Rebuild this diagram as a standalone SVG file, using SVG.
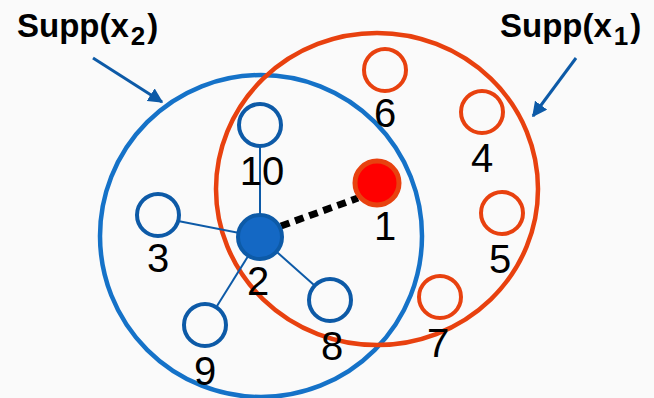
<svg xmlns="http://www.w3.org/2000/svg" width="654" height="398" viewBox="0 0 654 398">
<defs>
<style>
.lbl{font-family:"Liberation Sans",Arial,sans-serif;font-size:40px;fill:#000;text-anchor:middle}
.ttl{font-family:"Liberation Sans",Arial,sans-serif;font-size:33px;font-weight:bold;fill:#000}
.sub{font-size:26px}
.bn{fill:#FAFAFA;stroke:#0D5AA7;stroke-width:4}
.rn{fill:none;stroke:#E8410F;stroke-width:4}
.edge{stroke:#0D5AA7;stroke-width:2}
.arr{stroke:#0D5AA7;stroke-width:3;fill:none}
</style>
<marker id="ah" viewBox="0 0 10 10" refX="9" refY="5" markerWidth="5" markerHeight="5" orient="auto" markerUnits="strokeWidth">
<path d="M0,0 L10,5 L0,10 z" fill="#0D5AA7"/>
</marker>
</defs>
<rect width="654" height="398" fill="#FAFAFA"/>
<g id="supp-x2">
<circle cx="261" cy="236" r="161" fill="none" stroke="#1572C8" stroke-width="4.5"/>
</g>
<g id="supp-x1">
<ellipse cx="377" cy="189" rx="161" ry="156" fill="none" stroke="#E8410F" stroke-width="4.5"/>
</g>
<g id="connectors">
<line class="edge" x1="260" y1="237" x2="260" y2="146"/>
<line class="edge" x1="260" y1="237" x2="178" y2="221"/>
<line class="edge" x1="260" y1="237" x2="217" y2="306"/>
<line class="edge" x1="260" y1="237" x2="314" y2="285"/>
<line x1="281" y1="226" x2="358" y2="198" stroke="#000" stroke-width="7" stroke-dasharray="9,6"/>
<line class="arr" x1="93" y1="58" x2="162" y2="102" marker-end="url(#ah)"/>
<line class="arr" x1="576" y1="58" x2="533" y2="116" marker-end="url(#ah)"/>
</g>
<g id="title-x2"><text class="ttl" x="17" y="37">Supp(x<tspan class="sub" dx="2" dy="8">2</tspan><tspan dx="2" dy="-8">)</tspan></text></g>
<g id="title-x1"><text class="ttl" x="500" y="37">Supp(x<tspan class="sub" dx="2" dy="8">1</tspan><tspan dx="2" dy="-8">)</tspan></text></g>
<g id="node-10"><circle class="bn" cx="260" cy="125" r="21"/><text class="lbl" x="262" y="185">10</text></g>
<g id="node-3"><circle class="bn" cx="158" cy="215" r="21"/><text class="lbl" x="158" y="272">3</text></g>
<g id="node-9"><circle class="bn" cx="205" cy="325" r="21"/><text class="lbl" x="205" y="385">9</text></g>
<g id="node-8"><circle class="bn" cx="330" cy="300" r="21"/><text class="lbl" x="332" y="360">8</text></g>
<g id="node-2"><circle cx="260" cy="237" r="22" fill="#1468C4" stroke="#0D5AA7" stroke-width="4"/><text class="lbl" x="258" y="295">2</text></g>
<g id="node-1"><circle cx="377" cy="183" r="22" fill="#FF0000" stroke="#E8410F" stroke-width="5"/><text class="lbl" x="385" y="240">1</text></g>
<g id="node-6"><circle class="rn" cx="385" cy="70" r="21"/><text class="lbl" x="385" y="127">6</text></g>
<g id="node-4"><circle class="rn" cx="482" cy="112" r="21"/><text class="lbl" x="482" y="172">4</text></g>
<g id="node-5"><circle class="rn" cx="502" cy="213" r="21"/><text class="lbl" x="500" y="273">5</text></g>
<g id="node-7"><circle class="rn" cx="440" cy="297" r="21"/><text class="lbl" x="438" y="357">7</text></g>
</svg>
